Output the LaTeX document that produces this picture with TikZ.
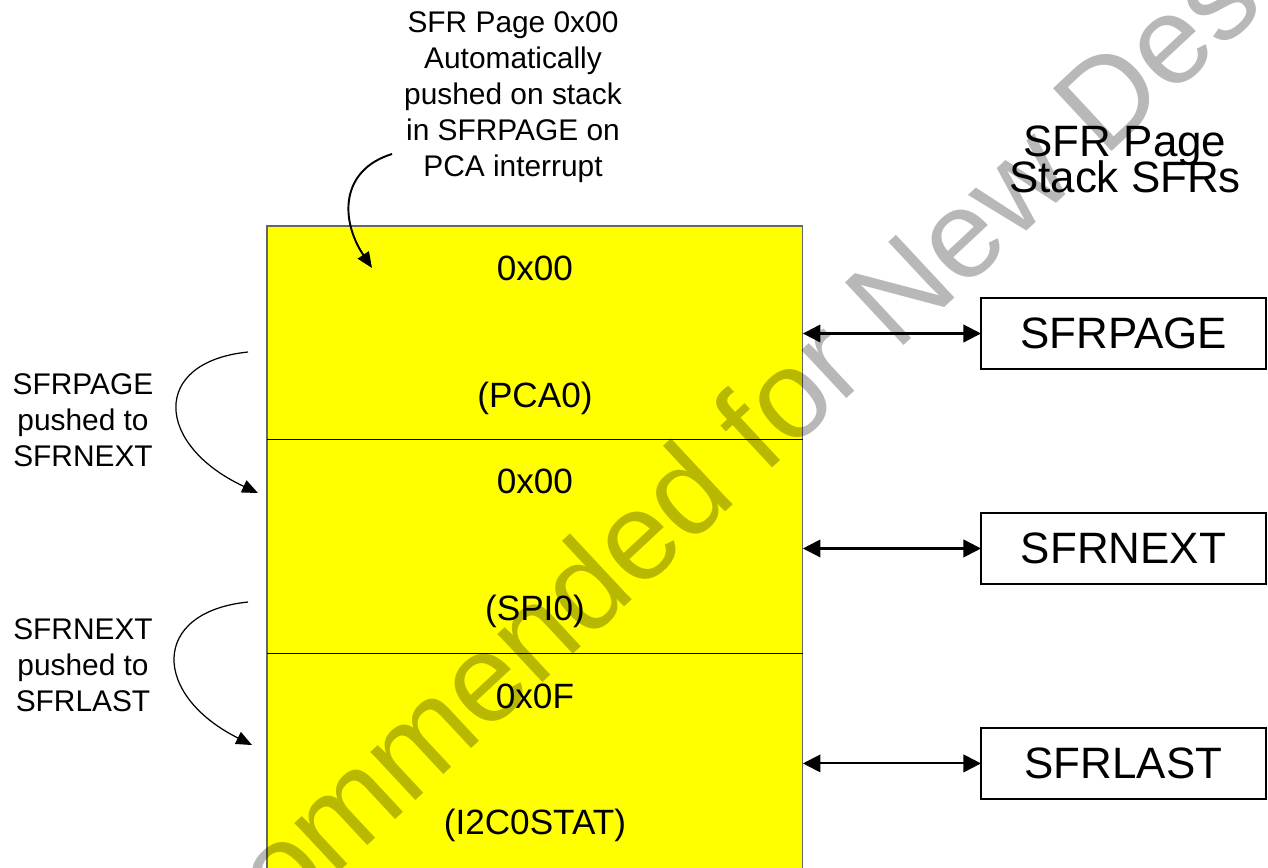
\documentclass[tikz,border=0pt]{standalone}
\usepackage{fontspec}
\setmainfont{Liberation Sans}
\usetikzlibrary{arrows.meta, positioning, calc}
\definecolor{stackyellow}{RGB}{255,255,0}

\begin{document}
\begin{tikzpicture}[
		x=0.02cm, y=-0.02cm,
		node distance = 2.88cm,
		>={Triangle[length=10pt, width=10pt]},
		cell/.style = {draw=black!60, fill=stackyellow, line width=0.6pt, minimum width=10.72cm, minimum height=4.28cm, inner sep=0pt, outer sep=0pt},
		reg/.style = {draw, rectangle, line width=1.3pt, minimum width=5.7cm, minimum height=1.42cm, inner sep=0pt, outer sep=0pt, font=\fontsize{25}{30}\selectfont},
		val/.style = {anchor=base, inner sep=0pt, font=\fontsize{20}{24}\selectfont},
		note/.style = {align=center, anchor=north, inner sep=0pt, font=\fontsize{17}{20.5}\selectfont},
		push/.style = {->, >={Triangle[length=9pt, width=7.5pt]}, line width=0.7pt}
		]
		\path [use as bounding box, fill=white] (0,0) rectangle (1268,867);
		
		% stack
		\node [cell, anchor=north west] (pca) at (267,226) {};
		\node [cell, below=0cm of pca] (spi) {};
		\node [cell, below=0cm of spi, minimum height=4.32cm] (smb) {};
		\draw [line width=0.6pt] (pca.south west) -- (pca.south east);
		\draw [line width=0.6pt] (spi.south west) -- (spi.south east);
		
		\node [val] (pcapage) at ($(pca.north)+(0,54)$) {0x00};
		\node [val] (pcaname) at ($(pca.north)+(0,181)$) {(PCA0)};
		\node [val] (spipage) at ($(spi.north)+(0,54)$) {0x00};
		\node [val] (spiname) at ($(spi.north)+(0,181)$) {(SPI0)};
		\node [val] (smbpage) at ($(smb.north)+(0,55)$) {0x0F};
		\node [val] (smbname) at ($(smb.north)+(0,181)$) {(I2C0STAT)};
		
		% stack sfrs
		\node [reg, anchor=north west] (sfrpage) at (981,298) {SFRPAGE};
		\node [reg, below=of sfrpage] (sfrnext) {SFRNEXT};
		\node [reg, below=of sfrnext] (sfrlast) {SFRLAST};
		\node [align=center, anchor=north, inner sep=0pt, font={\fontsize{25}{21}\selectfont\lineskiplimit=-100pt}] (title) at (1125,125) {SFR Page\\Stack SFRs};
		
		\draw [<->, line width=1.2pt] (sfrpage.west -| pca.east) -- (sfrpage.west);
		\draw [<->, line width=1.2pt] (sfrnext.west -| spi.east) -- (sfrnext.west);
		\draw [<->, line width=1.2pt] (sfrlast.west -| smb.east) -- (sfrlast.west);
		
		% notes
		\node [note] (autopush) at (513,11) {SFR Page 0x00\\Automatically\\pushed on stack\\in SFRPAGE on\\PCA interrupt};
		\node [note] (pagepush) at (83,373) {SFRPAGE\\pushed to\\SFRNEXT};
		\node [note] (nextpush) at (83,618) {SFRNEXT\\pushed to\\SFRLAST};
		
		\coordinate (autostart) at (392,154);
		\coordinate (autoend) at (372,268);
		\coordinate (pagestart) at (248,352);
		\coordinate (pageend) at (258,493);
		\coordinate (nextstart) at (248,602);
		\coordinate (nextend) at (252,745);
		\draw [push, line width=1.1pt] (autostart) .. controls (340,170) and (340,220) .. (autoend);
		\draw [push] (pagestart) .. controls (150,362) and (155,445) .. (pageend);
		\draw [push] (nextstart) .. controls (150,612) and (152,695) .. (nextend);
		
		% watermark
		\begin{scope}[blend mode=multiply]
			\clip (0,0) rectangle (1268,867);
			\node [rotate=43, inner sep=0pt, text=black!28, font=\fontsize{71}{72}\selectfont] (mark) at (672,518) {Not Recommended for New Designs};
		\end{scope}
		
	\end{tikzpicture}
\end{document}
